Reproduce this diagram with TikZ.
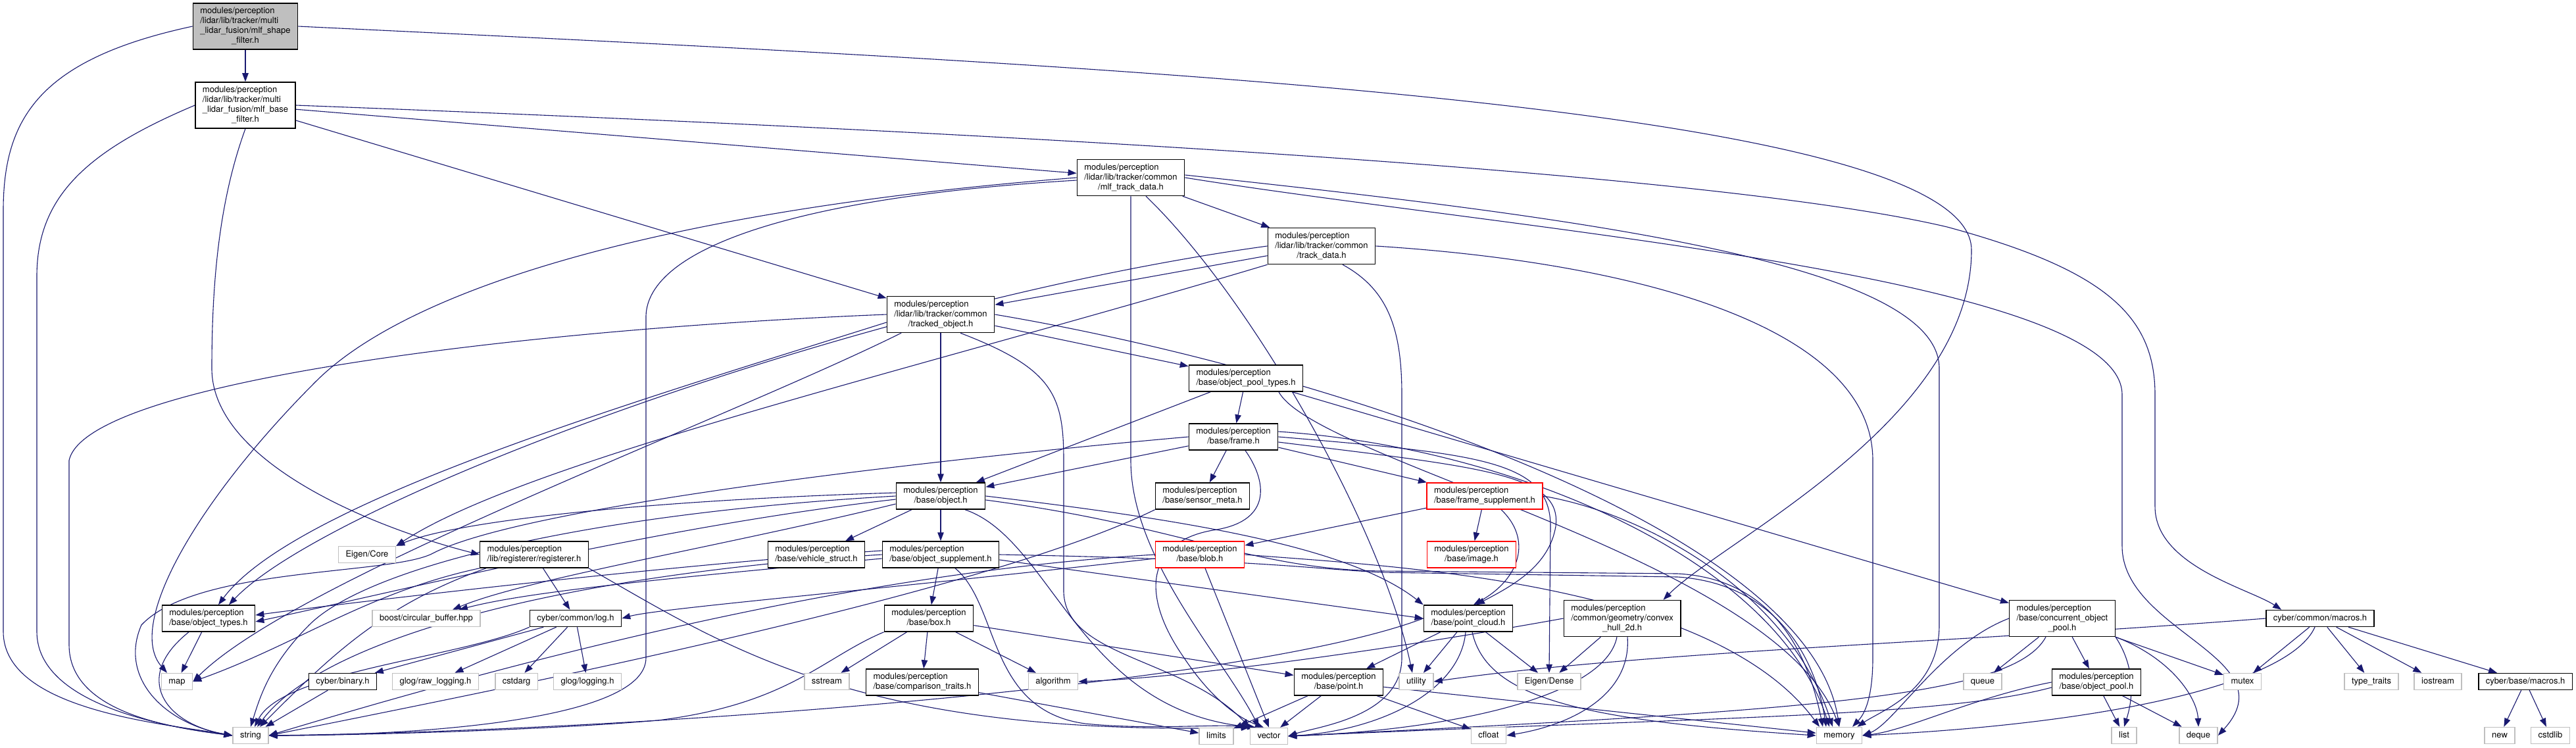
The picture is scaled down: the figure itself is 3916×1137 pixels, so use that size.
\documentclass[tikz,border=0pt]{standalone}
\usepackage{fontspec}
\setmainfont{TeX Gyre Heros}
\usetikzlibrary{arrows.meta, backgrounds}
\definecolor{edgeblue}{HTML}{191970}
\definecolor{sysgray}{HTML}{BFBFBF}
\newcommand{\fl}[1]{\begin{tabular}{@{}l@{}}#1\end{tabular}}
\newcommand{\cl}[1]{\multicolumn{1}{@{}c@{}}{#1}}

\begin{document}
\begin{tikzpicture}[x=1pt, y=-1pt,
    hdr/.style={draw, rectangle, line width=1.5pt, fill=white, inner xsep=11pt, inner ysep=5pt,
        font=\fontsize{13}{15}\selectfont, execute at begin node=\strut},
    syshdr/.style={hdr, draw=sysgray},
    roothdr/.style={hdr, fill=sysgray},
    cuthdr/.style={hdr, draw=red},
    dep/.style={-{Triangle[length=13pt,width=9.5pt]}, draw=edgeblue, line width=1.1pt}]

            \useasboundingbox (0,0) rectangle (3916,1137);

            \node[roothdr] (shape) at (373,40)
            {\fl{modules/perception\\/lidar/lib/tracker/multi\\\_lidar\_fusion/mlf\_shape\\\cl{\_filter.h}}};

            \node[hdr] (base) at (373,160)
            {\fl{modules/perception\\/lidar/lib/tracker/multi\\\_lidar\_fusion/mlf\_base\\\cl{\_filter.h}}};

            \node[hdr] (mlftd) at (1719,270)
            {\fl{modules/perception\\/lidar/lib/tracker/common\\\cl{/mlf\_track\_data.h}}};

            \node[hdr] (trackd) at (2009,374)
            {\fl{modules/perception\\/lidar/lib/tracker/common\\\cl{/track\_data.h}}};

            \node[hdr] (tobj) at (1430,478)
            {\fl{modules/perception\\/lidar/lib/tracker/common\\\cl{/tracked\_object.h}}};

            \node[hdr] (opt) at (1894,575) {\fl{modules/perception\\\cl{/base/object\_pool\_types.h}}};
            \node[hdr] (frame) at (1875,664) {\fl{modules/perception\\\cl{/base/frame.h}}};
            \node[hdr] (object) at (1430,754) {\fl{modules/perception\\\cl{/base/object.h}}};
            \node[hdr] (smeta) at (1828,754) {\fl{modules/perception\\\cl{/base/sensor\_meta.h}}};
            \node[cuthdr] (fsupp) at (2257,754) {\fl{modules/perception\\\cl{/base/frame\_supplement.h}}};
            \node[hdr] (vstruct) at (1241,843) {\fl{modules/perception\\\cl{/base/vehicle\_struct.h}}};
            \node[hdr] (osupp) at (1430,843) {\fl{modules/perception\\\cl{/base/object\_supplement.h}}};
            \node[cuthdr] (blob) at (1824,843) {\fl{modules/perception\\\cl{/base/blob.h}}};
            \node[cuthdr] (image) at (2237,843) {\fl{modules/perception\\\cl{/base/image.h}}};
            \node[syshdr] (ecore) at (558,843) {Eigen/Core};
            \node[hdr] (reg) at (812,843) {\fl{modules/perception\\\cl{/lib/registerer/registerer.h}}};

            \node[hdr] (otypes) at (317,940) {\fl{modules/perception\\\cl{/base/object\_types.h}}};
            \node[syshdr] (boost) at (648,940) {boost/circular\_buffer.hpp};
            \node[hdr] (log) at (875,940) {cyber/common/log.h};
            \node[hdr] (box) at (1412,940) {\fl{modules/perception\\\cl{/base/box.h}}};
            \node[hdr] (pcloud) at (2232,940) {\fl{modules/perception\\\cl{/base/point\_cloud.h}}};
            \node[hdr] (hull) at (2466,940)
            {\fl{modules/perception\\/common/geometry/convex\\\cl{\_hull\_2d.h}}};
            \node[hdr] (cop) at (3135,940)
            {\fl{modules/perception\\/base/concurrent\_object\\\cl{\_pool.h}}};
            \node[hdr] (cmacros) at (3527,940) {cyber/common/macros.h};

            \node[syshdr] (map) at (269,1036) {map};
            \node[hdr] (binary) at (521,1036) {cyber/binary.h};
            \node[syshdr] (rawlog) at (662,1036) {glog/raw\_logging.h};
            \node[syshdr] (cstdarg) at (785,1036) {cstdarg};
            \node[syshdr] (glog) at (893,1036) {glog/logging.h};
            \node[syshdr] (sstream) at (1257,1036) {sstream};
            \node[hdr] (cmp) at (1402,1037) {\fl{modules/perception\\\cl{/base/comparison\_traits.h}}};
            \node[syshdr] (algo) at (1601,1036) {algorithm};
            \node[hdr] (point) at (2035,1037) {\fl{modules/perception\\\cl{/base/point.h}}};
            \node[syshdr] (utility) at (2153,1036) {utility};
            \node[syshdr] (edense) at (2355,1036) {Eigen/Dense};
            \node[syshdr] (queue) at (3014,1036) {queue};
            \node[hdr] (opool) at (3187,1037) {\fl{modules/perception\\\cl{/base/object\_pool.h}}};
            \node[syshdr] (mutex) at (3409,1036) {mutex};
            \node[syshdr] (ttraits) at (3605,1036) {type\_traits};
            \node[syshdr] (iostream) at (3706,1036) {iostream};
            \node[hdr] (bmacros) at (3839,1036) {cyber/base/macros.h};

            \node[syshdr] (string) at (381,1118) {string};
            \node[syshdr] (limits) at (1849,1119) {limits};
            \node[syshdr] (vector) at (1929,1119) {vector};
            \node[syshdr] (cfloat) at (2263,1118) {cfloat};
            \node[syshdr] (memory) at (2796,1118) {memory};
            \node[syshdr] (list) at (3229,1118) {list};
            \node[syshdr] (deque) at (3342,1118) {deque};
            \node[syshdr] (new) at (3800,1118) {new};
            \node[syshdr] (cstdlib) at (3877,1118) {cstdlib};

            \begin{scope}[on background layer]
            \fill[white] (0,0) rectangle (3916,1137);

            \draw[dep] (shape) -- (base);
            \draw[dep] (shape.west) .. controls (60,90) and (5,180) .. (5,320) -- (5,960) .. controls (5,1080) and (250,1100) .. (string.west);
            \draw[dep] (shape.east) .. controls (1700,100) and (2997,160) .. (2997,380) .. controls (2997,640) and (2620,820) .. ([xshift=-27pt]hull.north east);

            \draw[dep] (base.west) .. controls (130,230) and (56,300) .. (56,420) -- (56,960) .. controls (56,1070) and (250,1105) .. (string.west);
            \draw[dep] (base.south) .. controls (335,300) and (322,420) .. (322,560) .. controls (322,700) and (560,800) .. (reg.west);
            \draw[dep] (base) -- (mlftd);
            \draw[dep] (base) -- (tobj);
            \draw[dep] (base.east) .. controls (1500,200) and (2600,260) .. (2960,345) .. controls (3200,410) and (3276,480) .. (3276,600) -- (3276,770) .. controls (3276,860) and (3420,895) .. ([xshift=24pt]cmacros.north west);

            \draw[dep] (mlftd) -- (trackd);
            \draw[dep] (mlftd.west) .. controls (1000,320) and (620,440) .. (480,580) .. controls (300,760) and (190,950) .. ([xshift=-15pt]map.north);
            \draw[dep] ([yshift=-4pt]mlftd.west) .. controls (1200,300) and (985,380) .. (982,480) -- (982,1000) .. controls (982,1100) and (600,1118) .. (string.east);
            \draw[dep] (mlftd.south) -- (1719,700) .. controls (1719,850) and (1860,1000) .. ([xshift=-15pt]vector.north);
            \draw[dep] ([xshift=23pt]mlftd.south) .. controls (1900,450) and (2100,800) .. ([xshift=-6pt]utility.north);
            \draw[dep] (mlftd.east) .. controls (2300,350) and (3226,420) .. (3226,600) -- (3226,830) .. controls (3226,960) and (3480,1000) .. (deque.east);
            \draw[dep] ([yshift=4pt]mlftd.east) .. controls (2400,330) and (2948,400) .. (2948,560) -- (2948,950) .. controls (2948,1050) and (2860,1080) .. ([xshift=-8pt]memory.north east);

            \draw[dep] (trackd) -- (tobj);
            \draw[dep] (trackd.south west) .. controls (1400,560) and (800,700) .. (ecore.north east);
            \draw[dep] (trackd.west) .. controls (1300,460) and (500,760) .. ([xshift=31pt]otypes.north);
            \draw[dep] ([xshift=32pt]trackd.south) .. controls (2110,440) and (2131,500) .. (2131,600) -- (2131,1000) .. controls (2131,1090) and (2000,1105) .. (vector.east);
            \draw[dep] (trackd.east) .. controls (2500,400) and (2847,500) .. (2847,700) -- (2847,1000) .. controls (2847,1070) and (2830,1090) .. ([xshift=20pt]memory.north);

            \draw[dep] (tobj.west) .. controls (800,500) and (130,580) .. (105,700) -- (105,980) .. controls (105,1080) and (250,1105) .. (string.west);
            \draw[dep] ([yshift=-12pt]tobj.west) .. controls (1000,600) and (450,760) .. ([xshift=15pt]otypes.north);
            \draw[dep] ([xshift=-60pt]tobj.south) .. controls (1100,640) and (450,880) .. (map.east);
            \draw[dep] (tobj) -- (object);
            \draw[dep] (tobj) -- (opt);
            \draw[dep] (tobj.east) .. controls (2000,560) and (2750,800) .. (memory.north);
            \draw[dep] ([xshift=30pt]tobj.south) .. controls (1600,560) and (1617,600) .. (1617,700) -- (1617,900) .. controls (1620,1000) and (1800,1000) .. (vector.north west);

            \draw[dep] (opt) -- (object);
            \draw[dep] (opt) -- (frame);
            \draw[dep] (opt) -- (cop);
            \draw[dep] ([xshift=50pt]opt.south) .. controls (2000,700) and (2700,850) .. (memory.north);

            \draw[dep] (frame) -- (object);
            \draw[dep] (frame) -- (smeta);
            \draw[dep] (frame) -- (fsupp);
            \draw[dep] (frame.west) .. controls (1400,700) and (800,770) .. (660,840) .. controls (600,875) and (300,860) .. (215,950) .. controls (180,1030) and (250,1100) .. (string.west);
            \draw[dep] ([xshift=18pt]frame.south) .. controls (1925,730) and (1935,790) .. (1850,805) .. controls (1745,820) and (1730,900) .. (1800,1000) .. controls (1840,1060) and (1880,1090) .. ([xshift=-8pt]vector.north);
            \draw[dep] ([yshift=8pt]frame.east) .. controls (2300,680) and (2700,850) .. ([xshift=-15pt]memory.north);
            \draw[dep] (frame.east) .. controls (2250,690) and (2357,700) .. (2357,800) -- (edense.north);
            \draw[dep] ([yshift=-8pt]frame.east) .. controls (2250,710) and (2375,720) .. (2365,800) .. controls (2355,860) and (2300,890) .. ([xshift=12pt]pcloud.north);

            \draw[dep] (object) -- (vstruct);
            \draw[dep] (object) -- (osupp);
            \draw[dep] (object.west) .. controls (900,780) and (560,860) .. (470,950) .. controls (410,1010) and (395,1060) .. (string.north);
            \draw[dep] ([yshift=5pt]object.west) .. controls (1000,760) and (700,790) .. (ecore.north east);
            \draw[dep] ([yshift=-5pt]object.west) .. controls (1000,800) and (600,900) .. ([yshift=-5pt]otypes.east);
            \draw[dep] ([yshift=-12pt]object.west) .. controls (1100,830) and (800,880) .. ([xshift=40pt]boost.north);
            \draw[dep] ([xshift=37pt]object.south) .. controls (1600,820) and (1640,1080) .. ([xshift=-20pt]vector.north);
            \draw[dep] (object.east) .. controls (1800,790) and (2050,830) .. (pcloud.north west);
            \draw[dep] ([yshift=-6pt]object.east) .. controls (1800,800) and (1900,865) .. (2100,868) -- (2550,872) .. controls (2700,880) and (2750,1000) .. ([xshift=-25pt]memory.north);

            \draw[dep] (osupp) -- (box);
            \draw[dep] (osupp.west) .. controls (900,870) and (500,960) .. ([xshift=10pt]string.north);
            \draw[dep] ([yshift=-6pt]osupp.west) .. controls (1000,880) and (800,900) .. ([xshift=50pt]boost.north);
            \draw[dep] ([yshift=6pt]osupp.west) .. controls (1000,860) and (500,920) .. ([yshift=5pt]otypes.east);
            \draw[dep] ([xshift=22pt]osupp.south) .. controls (1520,920) and (1500,1080) .. (1650,1100) .. controls (1750,1110) and (1850,1100) .. (vector.north west);
            \draw[dep] (osupp.east) .. controls (1900,850) and (2000,865) .. (2100,870) -- (2550,877) .. controls (2700,887) and (2760,1000) .. ([xshift=-20pt]memory.north);
            \draw[dep] ([yshift=-8pt]osupp.east) -- (pcloud.west);

            \draw[dep] (box) -- (sstream);
            \draw[dep] (box) -- (cmp);
            \draw[dep] (box) -- (algo);
            \draw[dep] (box) -- (point);
            \draw[dep] (box.south west) .. controls (1250,1000) and (1200,1070) .. (1000,1095) .. controls (800,1112) and (500,1118) .. (string.east);
            \draw[dep] (cmp) -- (limits);

            \draw[dep] (point) -- (cfloat);
            \draw[dep] (point) -- (memory);
            \draw[dep] (point) -- (limits);
            \draw[dep] (point) -- (vector);

            \draw[dep] (pcloud) -- (point);
            \draw[dep] (pcloud) -- (utility);
            \draw[dep] (pcloud) -- (edense);
            \draw[dep] (pcloud.west) .. controls (1900,1040) and (1000,1110) .. (string.east);
            \draw[dep] ([xshift=-4pt]pcloud.south) .. controls (2220,1050) and (2100,1110) .. (vector.east);
            \draw[dep] ([xshift=6pt]pcloud.south) .. controls (2260,1060) and (2400,1095) .. (memory.west);

            \draw[dep] (hull.west) .. controls (2100,990) and (1800,1030) .. (algo.east);
            \draw[dep] (hull) -- (edense);
            \draw[dep] ([xshift=-8pt]hull.south) .. controls (2440,1060) and (2200,1110) .. (vector.east);
            \draw[dep] ([xshift=8pt]hull.south) .. controls (2480,1050) and (2400,1100) .. (cfloat.east);

            \draw[dep] (fsupp) -- (image);
            \draw[dep] ([xshift=25pt]fsupp.south) .. controls (2330,820) and (2310,880) .. ([xshift=8pt]pcloud.north);
            \draw[dep] (fsupp) -- (blob);
            \draw[dep] (fsupp.east) .. controls (2500,780) and (2720,900) .. ([xshift=-10pt]memory.north);

            \draw[dep] (blob.west) .. controls (1300,870) and (800,1000) .. (string.east);
            \draw[dep] ([yshift=-6pt]blob.west) .. controls (1300,900) and (1000,925) .. (log.east);
            \draw[dep] (blob.east) .. controls (2100,860) and (2600,880) .. ([xshift=-30pt]memory.north);
            \draw[dep] ([xshift=8pt]blob.south) -- (vector.north);

            \draw[dep] (smeta.south west) .. controls (1500,900) and (800,1040) .. (string.east);

            \draw[dep] (reg) -- (log);
            \draw[dep] (reg.south west) .. controls (560,900) and (450,980) .. (map.east);
            \draw[dep] ([xshift=10pt]reg.south west) .. controls (580,920) and (500,1000) .. ([xshift=14pt]string.north);
            \draw[dep] (reg.south east) .. controls (1100,980) and (1300,1120) .. (vector.north west);

            \draw[dep] (log) -- (binary);
            \draw[dep] (log) -- (rawlog);
            \draw[dep] (log) -- (cstdarg);
            \draw[dep] (log) -- (glog);
            \draw[dep] (log.south west) .. controls (700,1000) and (430,1020) .. ([xshift=6pt]string.north);
            \draw[dep] (binary) -- (string);

            \draw[dep] (otypes) -- (map);
            \draw[dep] ([xshift=-30pt]otypes.south) .. controls (200,1030) and (250,1100) .. (string.west);

            \draw[dep] (cop) -- (queue);
            \draw[dep] (cop) -- (opool);
            \draw[dep] (cop) -- (mutex);
            \draw[dep] (cop.south east) .. controls (3250,1020) and (3240,1070) .. (list.north);
            \draw[dep] (cop.south east) .. controls (3300,1000) and (3340,1060) .. (deque.north);
            \draw[dep] ([xshift=-25pt]cop.south) .. controls (3060,1060) and (2750,1080) .. (vector.east);
            \draw[dep] (cop.west) .. controls (2950,980) and (2880,1100) .. (memory.east);

            \draw[dep] (opool) -- (list);
            \draw[dep] (opool) -- (deque);
            \draw[dep] (opool.west) .. controls (3000,1060) and (2900,1110) .. (memory.east);
            \draw[dep] ([yshift=-8pt]opool.west) .. controls (2950,1090) and (2600,1090) .. (vector.east);

            \draw[dep] (cmacros) -- (mutex);
            \draw[dep] (cmacros) -- (ttraits);
            \draw[dep] (cmacros) -- (iostream);
            \draw[dep] (cmacros) -- (bmacros);
            \draw[dep] ([xshift=-8pt]cmacros.south) .. controls (3480,1040) and (3200,1100) .. (memory.east);
            \draw[dep] (cmacros.west) .. controls (3000,975) and (2500,990) .. (utility.east);

            \draw[dep] (bmacros) -- (new);
            \draw[dep] (bmacros) -- (cstdlib);
            \end{scope}

        \end{tikzpicture}
\end{document}
